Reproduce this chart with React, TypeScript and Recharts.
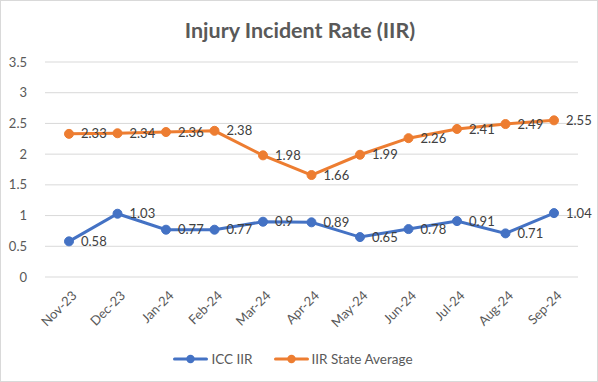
import React from 'react';
import {
  LineChart,
  Line,
  XAxis,
  YAxis,
  CartesianGrid,
  Legend,
  LabelList,
} from 'recharts';

const months = [
  'Nov-23', 'Dec-23', 'Jan-24', 'Feb-24', 'Mar-24', 'Apr-24',
  'May-24', 'Jun-24', 'Jul-24', 'Aug-24', 'Sep-24',
];
const iccIir = [0.58, 1.03, 0.77, 0.77, 0.9, 0.89, 0.65, 0.78, 0.91, 0.71, 1.04];
const stateAvg = [2.33, 2.34, 2.36, 2.38, 1.98, 1.66, 1.99, 2.26, 2.41, 2.49, 2.55];
const yTicks = [0, 0.5, 1, 1.5, 2, 2.5, 3, 3.5];

const BLUE = '#4472C4';
const ORANGE = '#ED7D31';
const FONT = 'Lato, "Noto Sans", sans-serif';

const chartData = months.map((m, i) => ({
  month: m,
  icc: iccIir[i],
  state: stateAvg[i],
}));

const XTick = (props: any) => {
  const { x, y, payload } = props;
  return (
    <g transform={`translate(${x},${y})`}>
      <text
        x={-2}
        y={14}
        textAnchor="end"
        fill="#595959"
        fontSize={13}
        fontFamily={FONT}
        transform="rotate(-45)"
      >
        {payload.value}
      </text>
    </g>
  );
};

const legendItems = [
  { name: 'ICC IIR', color: BLUE },
  { name: 'IIR State Average', color: ORANGE },
];

const LegendContent = () => (
  <div
    style={{
      display: 'flex',
      justifyContent: 'center',
      gap: 21,
      paddingTop: 12,
      fontFamily: FONT,
      fontSize: 13.5,
      color: '#595959',
    }}
  >
    {legendItems.map((it) => (
      <div key={it.name} style={{ display: 'flex', alignItems: 'center' }}>
        <svg width={35} height={10} style={{ marginRight: 3 }}>
          <line x1={1.5} y1={5} x2={33.5} y2={5} stroke={it.color} strokeWidth={3} strokeLinecap="round" />
          <circle cx={17.5} cy={5} r={4.2} fill={it.color} />
        </svg>
        <span>{it.name}</span>
      </div>
    ))}
  </div>
);

const App: React.FC = () => {
  return (
    <div
      style={{
        position: 'absolute',
        left: 0,
        top: 0,
        width: 598,
        height: 382,
        background: '#fff',
        boxSizing: 'border-box',
        border: '1px solid #d9d9d9',
      }}
    >
      <div
        style={{
          position: 'absolute',
          top: 16,
          left: 0,
          width: 598,
          textAlign: 'center',
          fontFamily: FONT,
          fontWeight: 'bold',
          fontSize: 21.5,
          color: '#595959',
        }}
      >
        Injury Incident Rate (IIR)
      </div>
      <LineChart
        width={596}
        height={380}
        data={chartData}
        margin={{ top: 61, right: 19, left: 7, bottom: 12 }}
        style={{ position: 'absolute', left: 0, top: 0 }}
      >
        <CartesianGrid vertical={false} stroke="#d9d9d9" strokeWidth={1} />
        <XAxis
          dataKey="month"
          axisLine={false}
          tickLine={false}
          interval={0}
          height={62}
          padding={{ left: 24, right: 24 }}
          tick={<XTick />}
        />
        <YAxis
          domain={[0, 3.5]}
          ticks={yTicks}
          axisLine={false}
          tickLine={false}
          width={37}
          tick={{ fill: '#595959', fontSize: 13, fontFamily: FONT }}
          tickMargin={12}
        />
        <Legend verticalAlign="bottom" height={30} content={<LegendContent />} />
        <Line
          type="linear"
          dataKey="icc"
          name="ICC IIR"
          stroke={BLUE}
          strokeWidth={3}
          dot={{ r: 4.5, fill: BLUE, stroke: BLUE, strokeWidth: 1 }}
          isAnimationActive={false}
        >
          <LabelList dataKey="icc" position="right" offset={12} fill="#404040" fontSize={13} fontFamily={FONT} />
        </Line>
        <Line
          type="linear"
          dataKey="state"
          name="IIR State Average"
          stroke={ORANGE}
          strokeWidth={3}
          dot={{ r: 4.5, fill: ORANGE, stroke: ORANGE, strokeWidth: 1 }}
          isAnimationActive={false}
        >
          <LabelList dataKey="state" position="right" offset={12} fill="#404040" fontSize={13} fontFamily={FONT} />
        </Line>
      </LineChart>
    </div>
  );
};

export default App;
